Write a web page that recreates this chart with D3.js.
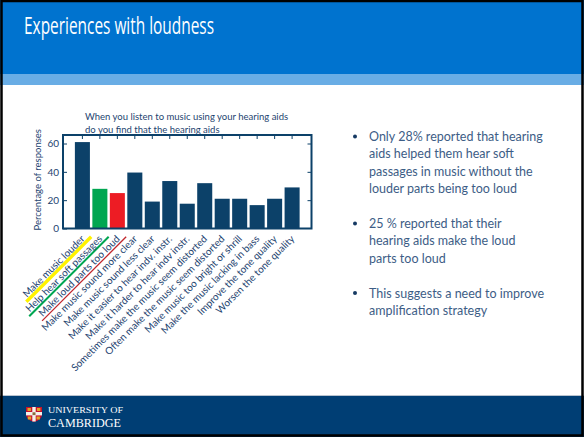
<!DOCTYPE html>
<html>
<head>
<meta charset="utf-8">
<script src="https://cdn.jsdelivr.net/npm/d3@7"></script>
<style>
  html, body { margin: 0; padding: 0; background: #fff; }
  svg { display: block; }
</style>
</head>
<body>
<svg id="slide" width="584" height="437"></svg>
<script>
// Survey responses: "When you listen to music using your hearing aids do you find that the hearing aids..."
const categories = [
  "Make music louder",
  "Help hear soft passages",
  "Make loud parts too loud",
  "Make music sound more clear",
  "Make music sound less clear",
  "Make it easier to hear indv. instr.",
  "Make it harder to hear indv instr.",
  "Sometimes make the music seem distorted",
  "Often make the music seem distorted",
  "Make music too bright or shrill",
  "Make the music lacking in bass",
  "Improve the tone quality",
  "Worsen the tone quality"
];
const percentages = [61, 28, 25, 39.5, 19, 33.5, 17.5, 32, 21, 21, 16.5, 21, 29];
const yTicks = [0, 20, 40, 60];
// Categories picked out with colour in the bars and an underline on the label
const highlights = [
  { index: 0, underline: "#fff200", width: 3.4, bar: null },
  { index: 1, underline: "#00a651", width: 2, bar: "#00a651" },
  { index: 2, underline: "#c1272d", width: 1.3, bar: "#ed1c24" }
];
const bulletPoints = [
  ["Only 28% reported that hearing", "aids helped them hear soft", "passages in music without the", "louder parts being too loud"],
  ["25 % reported that their", "hearing aids make the loud", "parts too loud"],
  ["This suggests a need to improve", "amplification strategy"]
];

const W = 584, H = 437;
const svg = d3.select("#slide");
const NAVY = "#0c4169";
const TEXT = "#1e4470";

// ---- slide frame: header, footer, border ----
svg.append("rect").attr("x", 0).attr("y", 0).attr("width", W).attr("height", H).attr("fill", "#fff");
svg.append("rect").attr("x", 0).attr("y", 0).attr("width", W).attr("height", 74).attr("fill", "#0073cf");
svg.append("rect").attr("x", 0).attr("y", 74).attr("width", W).attr("height", 11).attr("fill", "#69ade5");
svg.append("text")
  .attr("x", 24).attr("y", 33.5)
  .attr("fill", "#fff")
  .attr("font-family", "Open Sans, sans-serif")
  .attr("font-size", 23.5)
  .attr("textLength", 190)
  .attr("lengthAdjust", "spacingAndGlyphs")
  .text("Experiences with loudness");

svg.append("rect").attr("x", 0).attr("y", 395).attr("width", W).attr("height", 1).attr("fill", "#b9c3cf");
svg.append("rect").attr("x", 0).attr("y", 396).attr("width", W).attr("height", 41).attr("fill", "#003e74");

// University crest
const crest = svg.append("g").attr("transform", "translate(26,407)");
crest.append("path").attr("d", "M0,0 H16 V7 Q16,13 8,15 Q0,13 0,7 Z").attr("fill", "#c8102e");
crest.append("rect").attr("x", 6.3).attr("y", 0).attr("width", 3.4).attr("height", 14.5).attr("fill", "#f3f1ea");
crest.append("rect").attr("x", 0).attr("y", 5).attr("width", 16).attr("height", 3.4).attr("fill", "#f3f1ea");
[[1.5, 1], [11, 1], [1.8, 9.5], [10.5, 9.5]].forEach(([x, y]) =>
  crest.append("rect").attr("x", x).attr("y", y).attr("width", 3.4).attr("height", 3).attr("fill", "#e0a526"));
crest.append("rect").attr("x", 6.5).attr("y", 5.3).attr("width", 3).attr("height", 2.8).attr("fill", "#8a6a3a");

svg.append("text").attr("x", 48).attr("y", 413)
  .attr("fill", "#fff").attr("font-family", "Liberation Serif, serif").attr("font-size", 9)
  .attr("textLength", 75).attr("lengthAdjust", "spacingAndGlyphs")
  .text("UNIVERSITY OF");
svg.append("text").attr("x", 48).attr("y", 426.5)
  .attr("fill", "#fff").attr("font-family", "Liberation Serif, serif").attr("font-size", 12)
  .attr("textLength", 73).attr("lengthAdjust", "spacingAndGlyphs")
  .text("CAMBRIDGE");

// border
svg.append("rect").attr("x", 1.5).attr("y", 1).attr("width", W - 3).attr("height", H - 2.5)
  .attr("fill", "none").attr("stroke", "#000").attr("stroke-width", 2.5);

// ---- bar chart ----
const plot = { left: 63, right: 311.5, top: 135, bottom: 228.5 };

const x = d3.scaleBand()
  .domain(categories)
  .range([plot.left, plot.right])
  .paddingInner(0.14)
  .paddingOuter(0.68);

const y = d3.scaleLinear()
  .domain([0, 66])
  .range([plot.bottom, plot.top]);

const barColor = i => {
  const h = highlights.find(d => d.index === i);
  return h && h.bar ? h.bar : NAVY;
};

const chart = svg.append("g");

chart.selectAll("rect.bar")
  .data(percentages)
  .join("rect")
  .attr("class", "bar")
  .attr("x", (d, i) => x(categories[i]))
  .attr("y", d => y(d))
  .attr("width", x.bandwidth())
  .attr("height", d => y(0) - y(d))
  .attr("fill", (d, i) => barColor(i));

// Left axis with inward ticks
const yAxisL = chart.append("g")
  .attr("transform", `translate(${plot.left},0)`)
  .call(d3.axisLeft(y).tickValues(yTicks).tickSize(-4).tickPadding(4));
// Right axis: inward ticks, no labels
const yAxisR = chart.append("g")
  .attr("transform", `translate(${plot.right},0)`)
  .call(d3.axisRight(y).tickValues(yTicks.filter(v => v > 0)).tickSize(-4).tickFormat(""));
// Top axis: inward ticks at each category
const xAxisT = chart.append("g")
  .attr("transform", `translate(0,${plot.top})`)
  .call(d3.axisTop(x).tickSize(-4).tickFormat(""));

[yAxisL, yAxisR, xAxisT].forEach(a => {
  a.select(".domain").remove();
  a.selectAll(".tick line").attr("stroke", NAVY).attr("stroke-width", 1);
});
yAxisL.selectAll(".tick text")
  .attr("fill", TEXT)
  .attr("font-family", "Lato, sans-serif")
  .attr("font-size", 10);

// plot frame
chart.append("rect")
  .attr("x", plot.left).attr("y", plot.top)
  .attr("width", plot.right - plot.left).attr("height", plot.bottom - plot.top)
  .attr("fill", "none").attr("stroke", NAVY).attr("stroke-width", 2);

// chart title
const title = chart.append("text")
  .attr("fill", TEXT).attr("font-family", "Lato, sans-serif").attr("font-size", 9.5);
title.append("tspan").attr("x", 85).attr("y", 120).text("When you listen to music using your hearing aids");
title.append("tspan").attr("x", 85).attr("y", 132.5).text("do you find that the hearing aids");

// y-axis title
chart.append("text")
  .attr("transform", `translate(41,${(plot.top + plot.bottom) / 2 - 2}) rotate(-90)`)
  .attr("text-anchor", "middle")
  .attr("fill", TEXT).attr("font-family", "Lato, sans-serif").attr("font-size", 9.5)
  .text("Percentage of responses");

// rotated category labels
const labels = chart.selectAll("g.xlabel")
  .data(categories)
  .join("g")
  .attr("class", "xlabel")
  .attr("transform", d => `translate(${x(d) + x.bandwidth() / 2 + 3},${plot.bottom + 11}) rotate(-45)`);

labels.append("text")
  .attr("text-anchor", "end")
  .attr("fill", TEXT)
  .attr("font-family", "Lato, sans-serif")
  .attr("font-size", 10)
  .text(d => d);

// underlines on the highlighted labels
highlights.forEach(h => {
  const g = labels.filter((d, i) => i === h.index);
  const len = g.select("text").node().getComputedTextLength();
  g.insert("line", "text")
    .attr("x1", -len - 3).attr("x2", 6)
    .attr("y1", 2.2).attr("y2", 2.2)
    .attr("stroke", h.underline)
    .attr("stroke-width", h.width);
});

// ---- bullet text ----
const bullets = svg.append("g");
let lineY = 141;
bulletPoints.forEach(lines => {
  bullets.append("circle").attr("cx", 355).attr("cy", lineY - 4.5).attr("r", 2).attr("fill", "#163a63");
  lines.forEach((line, j) => {
    bullets.append("text")
      .attr("x", 369).attr("y", lineY + j * 17.4)
      .attr("fill", "#3d5d86")
      .attr("font-family", "Lato, sans-serif")
      .attr("font-size", 12.5)
      .text(line);
  });
  lineY += lines.length * 17.4 + 17.4;
});
</script>
</body>
</html>
